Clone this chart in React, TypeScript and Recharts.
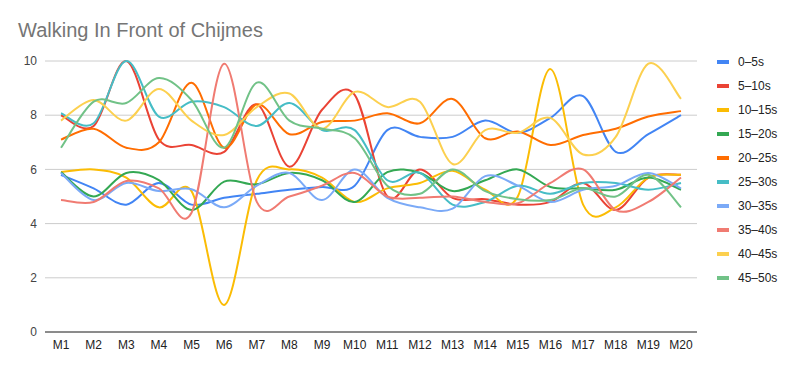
import React from "react";
import { LineChart, Line, XAxis, YAxis, CartesianGrid } from "recharts";

const categories = ["M1","M2","M3","M4","M5","M6","M7","M8","M9","M10","M11","M12","M13","M14","M15","M16","M17","M18","M19","M20"];
const seriesNames = ["0–5s","5–10s","10–15s","15–20s","20–25s","25–30s","30–35s","35–40s","40–45s","45–50s"];
const colors = ["#4285F4","#EA4335","#FBBC04","#34A853","#FF6D01","#46BDC6","#7BAAF7","#F07B72","#FCD04F","#71C287"];

const s0_5 = [5.8, 5.3, 4.7, 5.5, 4.7, 4.95, 5.1, 5.25, 5.35, 5.4, 7.45, 7.2, 7.2, 7.8, 7.35, 7.9, 8.7, 6.65, 7.3, 8.0];
const s5_10 = [8.0, 7.6, 10.0, 7.1, 6.9, 6.65, 8.4, 6.1, 8.2, 8.75, 5.0, 6.0, 4.95, 4.9, 4.7, 4.8, 5.5, 4.5, 5.7, 5.8];
const s10_15 = [5.9, 6.0, 5.7, 4.6, 5.2, 1.0, 5.6, 6.0, 5.7, 4.8, 5.3, 5.5, 5.95, 5.25, 5.0, 9.7, 4.7, 4.6, 5.7, 5.8];
const s15_20 = [5.9, 5.0, 5.87, 5.6, 4.5, 5.55, 5.45, 5.87, 5.6, 4.8, 5.9, 5.87, 5.2, 5.6, 6.0, 5.35, 5.3, 5.25, 5.7, 5.25];
const s20_25 = [7.1, 7.5, 6.8, 7.0, 9.2, 6.8, 8.4, 7.3, 7.75, 7.8, 8.07, 7.7, 8.6, 7.15, 7.4, 6.9, 7.27, 7.5, 7.95, 8.15];
const s25_30 = [8.07, 7.7, 10.0, 7.95, 8.5, 8.3, 7.6, 8.45, 7.45, 7.45, 5.6, 5.87, 4.7, 4.8, 5.4, 5.1, 5.5, 5.5, 5.25, 5.5];
const s30_35 = [5.87, 4.87, 5.5, 5.2, 5.27, 4.6, 5.4, 5.87, 4.87, 6.0, 4.95, 4.6, 4.55, 5.75, 5.4, 4.8, 5.25, 5.4, 5.87, 5.3];
const s35_40 = [4.87, 4.8, 5.57, 5.3, 4.4, 9.9, 4.8, 5.0, 5.4, 5.87, 5.0, 4.95, 5.0, 4.8, 4.75, 5.5, 6.0, 4.5, 4.8, 5.7];
const s40_45 = [7.8, 8.56, 7.8, 8.97, 7.8, 7.27, 8.3, 8.8, 7.5, 8.86, 8.3, 8.5, 6.2, 7.45, 7.35, 7.9, 6.55, 7.2, 9.9, 8.6];
const s45_50 = [6.8, 8.5, 8.45, 9.37, 8.56, 6.8, 9.2, 7.8, 7.5, 7.15, 5.4, 5.1, 6.0, 5.2, 4.9, 4.87, 5.3, 5.0, 5.8, 4.6];
const yTicks = [0, 2, 4, 6, 8, 10];

const allSeries = [s0_5, s5_10, s10_15, s15_20, s20_25, s25_30, s30_35, s35_40, s40_45, s45_50];

const data = categories.map((c, i) => {
  const row: Record<string, any> = { name: c };
  seriesNames.forEach((n, k) => { row[n] = allSeries[k][i]; });
  return row;
});

// Catmull-Rom style smoothing curve (similar to Sheets' smooth lines)
function smoothCurve(context: any) {
  let pts: number[][] = [];
  return {
    areaStart() {},
    areaEnd() {},
    lineStart() { pts = []; },
    point(x: number, y: number) { pts.push([+x, +y]); },
    lineEnd() {
      const n = pts.length;
      if (!n) return;
      context.moveTo(pts[0][0], pts[0][1]);
      for (let i = 0; i < n - 1; i++) {
        const p0 = pts[i - 1] || pts[i];
        const p1 = pts[i];
        const p2 = pts[i + 1];
        const p3 = pts[i + 2] || p2;
        context.bezierCurveTo(
          p1[0] + (p2[0] - p0[0]) / 6, p1[1] + (p2[1] - p0[1]) / 6,
          p2[0] - (p3[0] - p1[0]) / 6, p2[1] - (p3[1] - p1[1]) / 6,
          p2[0], p2[1]
        );
      }
    },
  };
}

const font = "'Liberation Sans', Arial, sans-serif";

export default function App() {
  return (
    <div style={{ position: "absolute", left: 0, top: 0, width: 798, height: 371, background: "#fff" }}>
      <div style={{ position: "absolute", left: 18, top: 20, fontFamily: font, fontSize: 20, lineHeight: "20px", color: "#757575", whiteSpace: "nowrap" }}>
        Walking In Front of Chijmes
      </div>
      <LineChart width={798} height={371} data={data} margin={{ top: 61, right: 101, left: 0, bottom: 9 }}>
        <CartesianGrid vertical={false} stroke="#cccccc" />
        <XAxis
          dataKey="name"
          height={30}
          padding={{ left: 16, right: 16 }}
          tickLine={false}
          axisLine={{ stroke: "#333333" }}
          tick={{ fontSize: 12, fill: "#222222", fontFamily: font }}
          interval={0}
        />
        <YAxis
          width={45}
          domain={[0, 10]}
          ticks={yTicks}
          tickLine={false}
          axisLine={false}
          tick={{ fontSize: 12, fill: "#444444", fontFamily: font }}
        />
        {seriesNames.map((n, k) => (
          <Line
            key={n}
            dataKey={n}
            type={smoothCurve as any}
            stroke={colors[k]}
            strokeWidth={2}
            dot={false}
            activeDot={false}
            isAnimationActive={false}
          />
        ))}
      </LineChart>
      <div style={{ position: "absolute", left: 717, top: 54 }}>
        {seriesNames.map((n, k) => (
          <div key={n} style={{ position: "absolute", left: 0, top: k * 24, height: 16, width: 80, whiteSpace: "nowrap" }}>
            <div style={{ position: "absolute", left: 0, top: 6, width: 12, height: 4, background: colors[k] }} />
            <div style={{ position: "absolute", left: 21, top: 0, fontFamily: font, fontSize: 12, color: "#222222", lineHeight: "16px" }}>{n}</div>
          </div>
        ))}
      </div>
    </div>
  );
}
